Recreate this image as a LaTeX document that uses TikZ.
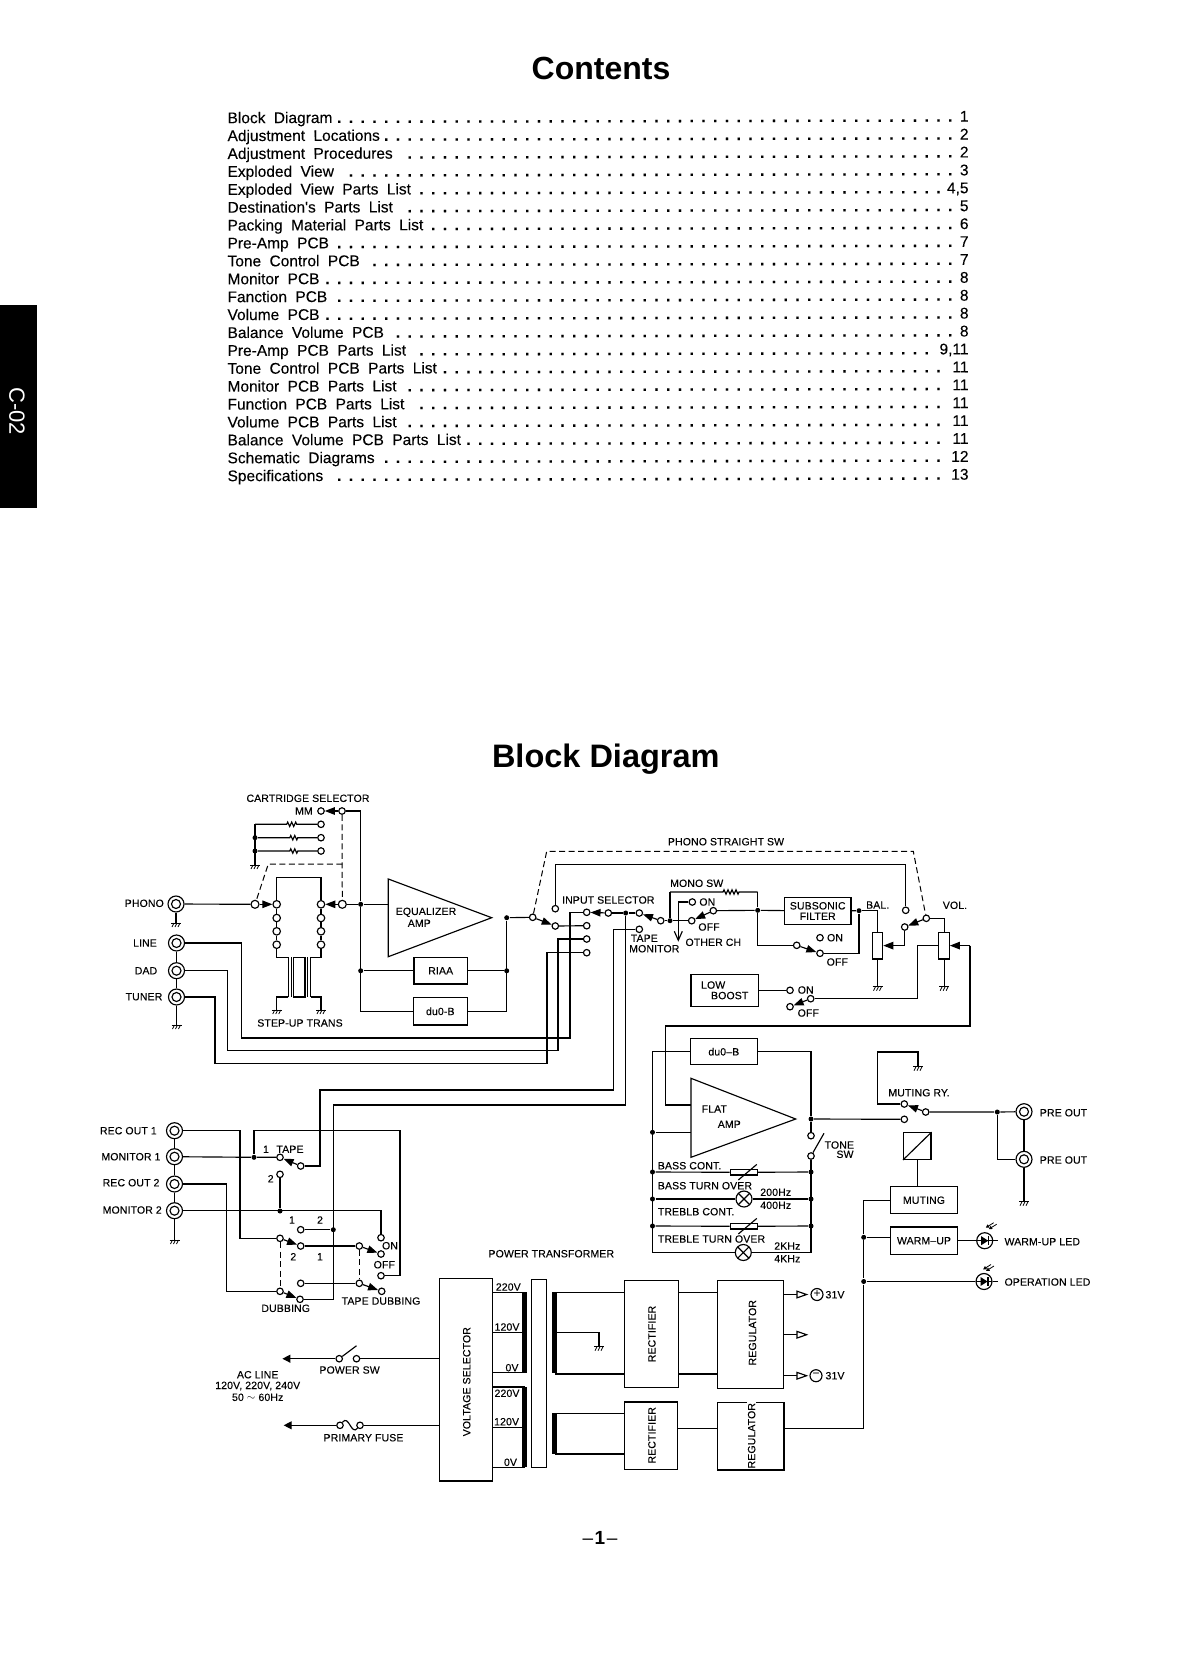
\documentclass[tikz,border=0pt]{standalone}
\usepackage{fontspec}
\setmainfont{Liberation Sans}
\newfontfamily\tocfont[WordSpace=1.95,FakeBold=0.12]{Liberation Sans}
\newfontfamily\lblfont[FakeBold=0.12,LetterSpace=1.2]{Liberation Sans}
\usetikzlibrary{arrows.meta,decorations.pathmorphing}
\tikzset{
  contact/.style={circle,draw,fill=white,inner sep=0pt,minimum size=6.5pt},
  dotn/.style={circle,fill=black,inner sep=0pt,minimum size=5pt},
  jack/.style={circle,draw,fill=white,inner sep=0pt,minimum size=16pt,
    path picture={\draw (path picture bounding box.center) circle (4.5pt);}},
  lamp/.style={circle,draw,fill=white,inner sep=0pt,minimum size=16pt,
    path picture={\draw (path picture bounding box.north west) -- (path picture bounding box.south east)
      (path picture bounding box.north east) -- (path picture bounding box.south west);}},
  ledn/.style={circle,draw,fill=white,inner sep=0pt,minimum size=16pt,
    path picture={\fill[black] ([shift={(-3.5pt,4.5pt)}]path picture bounding box.center) -- ([shift={(-3.5pt,-4.5pt)}]path picture bounding box.center)
      -- ([xshift=3.5pt]path picture bounding box.center) -- cycle;
      \draw ([shift={(4pt,4.5pt)}]path picture bounding box.center) -- ([shift={(4pt,-4.5pt)}]path picture bounding box.center);
      \draw ([xshift=-8pt]path picture bounding box.center) -- ([xshift=8pt]path picture bounding box.center);}},
  signn/.style={circle,draw,inner sep=0pt,minimum size=12pt,font=\fontsize{12}{12}\selectfont},
  lbl/.style={inner sep=0pt,font=\lblfont\fontsize{10.5}{11}\selectfont},
  box/.style 2 args={draw,fill=white,inner sep=0pt,minimum width=#1,minimum height=#2,align=center,
    font=\lblfont\fontsize{10.5}{10.5}\selectfont},
  swarm/.style={-{Triangle[length=10pt,width=7.5pt]}},
  outarm/.style={-{Triangle[open,fill=white,length=12pt,width=8pt]}},
  acarm/.style={-{Triangle[length=8pt,width=8pt]}},
  ganged/.style={line width=1pt,dash pattern=on 6pt off 3.5pt},
  zig/.style 2 args={decorate,decoration={zigzag,amplitude=2.2pt,segment length=4pt,pre length=#1,post length=#2}},
  gnd/.pic={
    \draw[line width=0.9pt] (-5,0) -- (5,0);
    \foreach \s in {-3,0,3} \draw[line width=0.8pt] ({\s+1},0) -- ({\s-1},4);
  },
}
\newcommand{\tocdots}{\leaders\hbox to 11.75pt{\hss\bfseries.\hss}\hfill}
\begin{document}
\begin{tikzpicture}[x=1pt,y=-1pt,line width=1.15pt,>=stealth]
  \useasboundingbox (0,0) rectangle (1179,1672);

  % Page furniture
  \fill (0,305) rectangle (37,508);
  \node[white,rotate=-90,inner sep=0pt,font=\fontsize{22}{22}\selectfont] (tab) at (17,411) {C-02};
  \node[anchor=base,inner sep=0pt,font=\fontsize{32}{32}\selectfont\bfseries] (contents) at (601,80) {Contents};
  \node[anchor=base,inner sep=0pt,font=\fontsize{32.5}{33}\selectfont\bfseries] (blockdiag) at (605.8,767) {Block Diagram};
  \node[inner sep=0pt,font=\fontsize{19}{19}\selectfont] (pageno) at (600,1538) {–\kern1.5pt\textbf{1}\kern1.5pt–};

  % Contents list
  \foreach \lname/\lpage [count=\i from 0] in {Block Diagram/1,Adjustment Locations/2,Adjustment Procedures/2,
      Exploded View/3,Exploded View Parts List/{4,5},Destination's Parts List/5,Packing Material Parts List/6,
      Pre-Amp PCB/7,Tone Control PCB/7,Monitor PCB/8,Fanction PCB/8,Volume PCB/8,Balance Volume PCB/8,
      Pre-Amp PCB Parts List/{9,11},Tone Control PCB Parts List/11,Monitor PCB Parts List/11,
      Function PCB Parts List/11,Volume PCB Parts List/11,Balance Volume PCB Parts List/11,
      Schematic Diagrams/12,Specifications/13}
    \node[anchor=base west,rotate=0.12,inner sep=0pt,font=\tocfont\fontsize{15.5}{16}\selectfont] (toc\i) at (227,{123.2+17.9*\i})
      {\hbox to 741pt{\lname\tocdots\lpage}};

  % Phono jacks and inputs
  \foreach \jn/\jx/\jy in {jph/176/904,jlin/176.5/943,jdad/176.5/970.7,jtun/176.5/997,
      jra/174.5/1130.7,jma/174.5/1156.7,jrb/174.5/1184,jmb/174.5/1210.7,jpa/1024/1111.7,jpb/1024/1159.3}
    \node[jack] (\jn) at (\jx,\jy) {};
  \coordinate (gph) at (176,923);
  \coordinate (gtu) at (176.5,1025);
  \draw (jph) -- (gph);
  \draw (jlin) -- (jdad) -- (jtun) -- (gtu);
  \pic at (gph) {gnd};
  \pic at (gtu) {gnd};
  \node[lbl] (lph) at (144.3,903.3) {PHONO};
  \node[lbl] (llin) at (145,943) {LINE};
  \node[lbl] (ldad) at (146,970.7) {DAD};
  \node[lbl] (ltun) at (144,996.7) {TUNER};

  % Cartridge selector
  \node[lbl] (lcart) at (308,798.3) {CARTRIDGE SELECTOR};
  \node[lbl,anchor=east] (lmm) at (313.3,811) {MM};
  \node[contact] (cmm) at (321,811) {};
  \node[contact] (ccom) at (342,811) {};
  \draw[swarm] (ccom) -- (cmm);
  \coordinate (rtop) at (255,824.3);
  \node[dotn] (rdb) at (255,837.7) {};
  \node[dotn] (rdc) at (255,851) {};
  \coordinate (gca) at (255,865);
  \node[contact] (cra) at (321,824.3) {};
  \node[contact] (crb) at (321,837.7) {};
  \node[contact] (crc) at (321,851) {};
  \draw (rtop) -- (gca);
  \pic at (gca) {gnd};
  \foreach \rs/\re in {rtop/cra,rdb/crb,rdc/crc}
    \draw[zig={31.7pt}{19.3pt}] (\rs) -- (\re);

  % Step-up transformer
  \foreach \cy [count=\i] in {904.3,918,931.3,944.7} {
    \node[contact,minimum size=7.5pt] (cl\i) at (276.7,\cy) {};
    \node[contact,minimum size=7.5pt] (cr\i) at (321,\cy) {};
  }
  \draw (cl1) -- (cl2) -- (cl3) -- (cl4);
  \draw (cr1) -- (cr2) -- (cr3) -- (cr4);
  \draw (cl1) -- ++(0,-26.6) -| (cr1);
  \coordinate (tla) at (288.3,957.3);
  \coordinate (tra) at (310.5,957.3);
  \coordinate (tlb) at (288.3,997);
  \coordinate (trb) at (310.5,997);
  \coordinate (gsl) at (276.7,1010);
  \coordinate (gsr) at (321,1010);
  \draw (cl4) |- (tla);
  \draw (cr4) |- (tra);
  \draw (tlb) -| (gsl);
  \draw (trb) -| (gsr);
  \foreach \xx in {288.3,291.3,307.5,310.5}
    \draw (\xx,957.3) -- (\xx,997);
  \draw (293.5,957.3) rectangle (305,997);
  \pic at (gsl) {gnd};
  \pic at (gsr) {gnd};
  \node[lbl] (lstep) at (300,1023) {STEP-UP TRANS};
  \node[contact,minimum size=8pt] (cpl) at (255,904.3) {};
  \node[contact,minimum size=8pt] (cpr) at (342.3,904.3) {};
  \draw (jph) -- (cpl);
  \draw[swarm] (cpl) -- (cl1);
  \draw[swarm] (cpr) -- (cr1);
  \coordinate (gsa) at (342.3,864);
  \coordinate (gsb) at (268.3,864);
  \draw[ganged] (ccom) -- (cpr);
  \draw[ganged] (gsa) -- (gsb) -- (cpl);

  % Equalizer amp
  \coordinate (eqa) at (388.3,879);
  \coordinate (eqb) at (388.3,956.7);
  \coordinate (eqout) at (491.7,917.7);
  \coordinate (eqin) at (388.3,904.3);
  \draw (eqa) -- (eqout) -- (eqb) -- cycle;
  \node[lbl] (leqa) at (426,912.3) {EQUALIZER};
  \node[lbl] (leqb) at (419.3,923.3) {AMP};
  \node[box={53.3pt}{26.3pt}] (riaa) at (440.7,970.8) {RIAA};
  \node[box={54pt}{27.3pt}] (duq) at (440.3,1011.3) {du0-B};
  \node[dotn] (dea) at (360.7,904.3) {};
  \node[dotn] (deb) at (360.7,970.8) {};
  \node[dotn] (dec) at (506.7,917.7) {};
  \node[dotn] (ded) at (506.7,970.8) {};
  \draw (ccom) -| (dea);
  \draw (cpr) -- (dea) -- (eqin);
  \draw (dea) |- (duq);
  \draw (deb) -- (riaa) -- (ded);
  \draw (dec) |- (duq);

  % Input selector
  \node[contact] (spa) at (532.7,917.3) {};
  \node[contact] (spb) at (555.3,926) {};
  \node[contact] (spc) at (555.3,908.7) {};
  \foreach \sn/\sy in {sa/912.3,sb/925.7,sc/939,sd/952.7}
    \node[contact] (\sn) at (586.7,\sy) {};
  \node[contact] (swa) at (608.3,913) {};
  \node[dotn] (dts) at (625.7,913) {};
  \node[contact] (swb) at (639.3,913) {};
  \node[contact] (swc) at (660.7,920.7) {};
  \node[contact] (tmn) at (639.3,929.3) {};
  \node[dotn] (dmo) at (670,920.7) {};
  \node[lbl] (linp) at (608.3,900) {INPUT SELECTOR};
  \node[lbl] (ltap) at (644.3,938.3) {TAPE};
  \node[lbl] (lmon) at (654.3,948.7) {MONITOR};
  \draw (dec) -- (spa);
  \draw[swarm] (spa) -- (spb);
  \draw (spb) -- (sb);
  \draw[swarm] (swa) -- (sa);
  \draw (swa) -- (dts) -- (swb);
  \draw[swarm] (swc) -- (swb);
  \draw (jlin) -| (241.7,1038) -| (570,912.3) -- (sa);
  \draw (jdad) -| (227.7,1050.3) -| (558,939) -- (sc);
  \draw (jtun) -| (215,1063.7) -| (547,952.7) -- (sd);

  % Mono switch and subsonic filter
  \node[contact] (mnc) at (691.7,920.7) {};
  \node[contact] (mnt) at (713.3,910.7) {};
  \node[contact] (mnon) at (692.3,902) {};
  \node[dotn] (dsu) at (757.7,910.3) {};
  \node[box={66.7pt}{26.6pt}] (subf) at (817.7,911) {SUBSONIC\\FILTER};
  \node[dotn] (dba) at (859,910.7) {};
  \coordinate (mtl) at (670,892);
  \coordinate (mtr) at (757.7,892);
  \coordinate (ocha) at (678.3,941.7);
  \draw (swc) -- (dmo) -- (mnc);
  \draw (dmo) -- (mtl);
  \draw[zig={53pt}{17.7pt}] (mtl) -- (mtr);
  \draw (mtr) -- (dsu);
  \draw[swarm] (mnt) -- (mnc);
  \draw (mnt) -- (dsu) -- (subf) -- (dba);
  \draw[-{Straight Barb[length=9pt,width=8pt]}] (mnon) -| (ocha);
  \node[lbl] (lmos) at (696.7,883.3) {MONO SW};
  \node[lbl] (lmoa) at (707.3,902) {ON};
  \node[lbl] (lmob) at (709,927) {OFF};
  \node[lbl] (loth) at (713.3,942.3) {OTHER CH};
  \node[contact] (ffa) at (796.7,945.3) {};
  \node[contact] (ffb) at (820,953.3) {};
  \node[contact] (ffon) at (820,937.7) {};
  \draw (dsu) |- (ffa);
  \draw[swarm] (ffa) -- (ffb);
  \draw (ffb) -| (dba);
  \node[lbl] (lffa) at (835,937.7) {ON};
  \node[lbl] (lffb) at (837.3,962) {OFF};

  % Balance and volume
  \node[box={10.4pt}{26.7pt}] (pota) at (877.5,945.6) {};
  \node[box={10.4pt}{26.7pt}] (potb) at (944.1,945.6) {};
  \coordinate (gpa) at (877.5,986.7);
  \coordinate (gpb) at (944.1,986.7);
  \coordinate (wpa) at (904.7,945.6);
  \coordinate (wpb) at (970,945.6);
  \node[contact] (vsa) at (926.3,918.3) {};
  \node[contact] (vsb) at (904.7,927) {};
  \node[contact] (vsc) at (905.7,910.3) {};
  \draw (dba) -| (pota);
  \draw (pota) -- (gpa);
  \draw (potb) -- (gpb);
  \pic at (gpa) {gnd};
  \pic at (gpb) {gnd};
  \draw[swarm] (vsa) -- (vsb);
  \draw (vsb) -- (wpa);
  \draw[swarm] (wpa) -- (pota.east);
  \draw (vsa) -| (potb);
  \draw[swarm] (wpb) -- (potb.east);
  \draw (spc) -- ++(0,-44.4) -| (vsc);
  \coordinate (psa) at (546.7,851.3);
  \coordinate (psb) at (913.3,851.3);
  \draw[ganged] (spa) -- (psa) -- (psb) -- (vsa);
  \node[lbl] (lpsw) at (726,841.7) {PHONO STRAIGHT SW};
  \node[lbl] (lbal) at (877.7,905) {BAL.};
  \node[lbl] (lvol) at (955,905.3) {VOL.};

  % Low boost
  \node[box={67.3pt}{32pt},align=left] (lowb) at (724.7,990.3) {LOW\\\hspace*{10pt}BOOST};
  \node[contact] (lba) at (790,990.3) {};
  \node[contact] (lbb) at (790,1006.7) {};
  \node[contact] (lbc) at (810.7,998.7) {};
  \draw (lowb) -- (lba);
  \draw[swarm] (lbc) -- (lbb);
  \draw (potb) -| (917.3,998.7) -- (lbc);
  \node[lbl] (llba) at (805.7,990) {ON};
  \node[lbl] (llbb) at (808.3,1013) {OFF};

  % Flat amp and tone
  \coordinate (faa) at (691,1078.3);
  \coordinate (fab) at (691,1157.3);
  \coordinate (faout) at (795.7,1119);
  \coordinate (fain) at (691,1105);
  \coordinate (fafb) at (691,1132.3);
  \draw (faa) -- (faout) -- (fab) -- cycle;
  \draw (wpb) |- (665.3,1026) |- (fain);
  \node[lbl] (lfaa) at (714.3,1109) {FLAT};
  \node[lbl] (lfab) at (729.3,1124.3) {AMP};
  \node[box={67pt}{26pt}] (dufb) at (723.8,1051.7) {du0–B};
  \node[dotn] (dtp) at (811,1119) {};
  \node[contact] (tsa) at (811,1135.7) {};
  \node[contact] (tsb) at (811,1156) {};
  \coordinate (tsarm) at (824,1133.3);
  \node[dotn] (dla) at (652.5,1132.3) {};
  \coordinate (bla) at (652.5,1252.5);
  \coordinate (bra) at (811,1252.5);
  \node[box={27pt}{5.3pt}] (rbs) at (743.8,1172.3) {};
  \node[box={27pt}{5.3pt}] (rtr) at (743.8,1226.3) {};
  \node[lamp] (lpa) at (744,1199) {};
  \node[lamp] (lpb) at (743.3,1252.5) {};
  \foreach \rn/\ry [count=\i] in {rbs/1172,lpa/1199,rtr/1226} {
    \node[dotn] (dl\i) at (652.5,\ry) {};
    \node[dotn] (dr\i) at (811,\ry) {};
    \draw (dl\i) -- (\rn) -- (dr\i);
  }
  \foreach \rr in {rbs,rtr}
    \draw ([shift={(-5.5,7.7)}]\rr.center) -- ([shift={(13,-7.9)}]\rr.center);
  \draw (dufb) -| (bla) -- (lpb) -- (bra) -- (tsb);
  \draw (dla) -- (fafb);
  \draw (dufb) -| (dtp);
  \draw (tsa) -- (dtp);
  \draw (tsb) -- (tsarm);
  \node[lbl,anchor=west] (lbsc) at (657.3,1165.7) {BASS CONT.};
  \node[lbl,anchor=west] (lbt) at (657.3,1185.7) {BASS TURN OVER};
  \node[lbl,anchor=west] (ltc) at (657.3,1211.7) {TREBLB CONT.};
  \node[lbl,anchor=west] (ltt) at (657.3,1239) {TREBLE TURN OVER};
  \node[lbl] (lha) at (775.7,1192.3) {200Hz};
  \node[lbl] (lhb) at (775.7,1205.3) {400Hz};
  \node[lbl] (lhc) at (787.3,1246) {2KHz};
  \node[lbl] (lhd) at (787.3,1258.7) {4KHz};
  \node[lbl] (ltsa) at (839.3,1145) {TONE};
  \node[lbl] (ltsb) at (845,1154.3) {SW};

  % Muting relay and outputs
  \node[contact] (mra) at (904.3,1104) {};
  \node[contact] (mrb) at (904.3,1119.3) {};
  \node[contact] (mrc) at (925.7,1112) {};
  \node[dotn] (dpr) at (997.3,1112) {};
  \coordinate (gmr) at (918,1066.7);
  \coordinate (gpo) at (1024,1201.7);
  \draw (dtp) -- (mrb);
  \draw[swarm] (mrc) -- (mra);
  \draw (mra) -| (877.7,1052) -| (gmr);
  \pic at (gmr) {gnd};
  \draw (mrc) -- (dpr) -- (jpa);
  \draw (dpr) |- (jpb);
  \draw (jpa) -- (jpb) -- (gpo);
  \pic at (gpo) {gnd};
  \node[lbl] (lmry) at (919,1092.7) {MUTING RY.};
  \node[lbl,anchor=west] (lpoa) at (1039.3,1112.7) {PRE OUT};
  \node[lbl,anchor=west] (lpob) at (1039.3,1160) {PRE OUT};
  \node[box={27.3pt}{26.6pt}] (relay) at (917.3,1146) {};
  \draw (relay.south west) -- (relay.north east);
  \node[box={67.4pt}{27pt}] (mute) at (924,1200.2) {MUTING};
  \node[box={67.4pt}{27.3pt}] (wup) at (924,1240.7) {WARM–UP};
  \draw (relay) -- (relay |- mute.north);
  \node[dotn] (dwu) at (863.7,1237.3) {};
  \node[dotn] (dop) at (863.7,1281.5) {};
  \node[ledn] (leda) at (984.7,1240.7) {};
  \node[ledn] (ledb) at (984,1281.5) {};
  \coordinate (lea) at (998.3,1240.7);
  \coordinate (leb) at (998.3,1281.5);
  \draw (mute) -| (dwu);
  \draw (dwu) -- (dop);
  \draw (dwu) -- (dwu -| wup.west);
  \draw (wup) -- (leda) -- (lea);
  \draw (dop) -- (ledb) -- (leb);
  \foreach \ln/\sx/\sy in {leda/5/-13,ledb/3/-12} {
    \draw[-{Triangle[length=3.5pt,width=3.5pt]},line width=0.8pt] ([shift={(\sx+4,\sy-5)}]\ln.center) -- ([shift={(\sx-4,\sy)}]\ln.center);
    \draw[-{Triangle[length=3.5pt,width=3.5pt]},line width=0.8pt] ([shift={(\sx+7,\sy-3.5)}]\ln.center) -- ([shift={(\sx-1,\sy+1.5)}]\ln.center);
  }
  \node[lbl,anchor=west] (lwu) at (1004,1241.7) {WARM-UP LED};
  \node[lbl,anchor=west] (lop) at (1004,1282) {OPERATION LED};

  % Rec out, monitor, dubbing
  \draw (jra) -- (jma) -- (jrb) -- (jmb);
  \coordinate (gmb) at (174.5,1240);
  \draw (jmb) -- (gmb);
  \pic at (gmb) {gnd};
  \node[lbl,anchor=east] (lra) at (157.3,1130.7) {REC OUT 1};
  \node[lbl,anchor=east] (lma) at (161,1156.7) {MONITOR 1};
  \node[lbl,anchor=east] (lrb) at (160,1182.7) {REC OUT 2};
  \node[lbl,anchor=east] (lmb) at (162.3,1210) {MONITOR 2};
  \node[contact] (tpa) at (280,1157.3) {};
  \node[contact] (tpb) at (300.7,1166) {};
  \node[contact] (tpc) at (280,1174.3) {};
  \node[dotn] (dma) at (254,1157.3) {};
  \node[dotn] (dmb) at (280,1211) {};
  \node[contact] (dua) at (280,1238.3) {};
  \node[contact] (dub) at (300.7,1246) {};
  \node[contact] (duc) at (300.7,1229.7) {};
  \node[contact] (dud) at (280,1291.3) {};
  \node[contact] (due) at (300,1299.3) {};
  \node[contact] (duf) at (300.7,1283.3) {};
  \node[dotn] (ddu) at (333.3,1229.7) {};
  \node[contact] (tda) at (359.3,1246) {};
  \node[contact] (tdb) at (381,1254) {};
  \node[contact] (tdc) at (359.3,1283.3) {};
  \node[contact] (tdd) at (381.7,1291.3) {};
  \node[contact] (tdon) at (381,1237.7) {};
  \node[contact] (tdof) at (381,1275.7) {};
  \draw (jma) -- (dma) -- (tpa);
  \draw[swarm] (tpb) -- (tpa);
  \draw (tpc) -- (dmb);
  \draw (jmb) -| (tdon);
  \draw (jra) -| (240,1238.3) -- (dua);
  \draw (jrb) -| (226.7,1291.3) -- (dud);
  \draw (dma) |- (400,1130.7) |- (tdof);
  \draw[swarm] (dua) -- (dub);
  \draw[swarm] (dud) -- (due);
  \draw (dub) -- (tda);
  \draw[swarm] (tda) -- (tdb);
  \draw[swarm] (tdc) -- (tdd);
  \draw (duc) -- (ddu);
  \draw (duf) -- (tdc);
  \draw[ganged] (dua) -- (dud);
  \draw[ganged] (tda) -- (tdc);
  \draw (tmn) -| (613.3,1090) -| (320,1166) -- (tpb);
  \draw (dts) |- (333.3,1105) |- (due);
  \node[lbl] (ltpa) at (266,1149.3) {1};
  \node[lbl] (ltpb) at (290,1149.3) {TAPE};
  \node[lbl] (ltpc) at (270.7,1178.7) {2};
  \node[lbl] (ldua) at (292,1220) {1};
  \node[lbl] (ldub) at (320,1220) {2};
  \node[lbl] (lduc) at (293.3,1256.7) {2};
  \node[lbl] (ldud) at (320,1256.7) {1};
  \node[lbl] (ltda) at (390,1245.7) {ON};
  \node[lbl] (ltdb) at (384.3,1264.7) {OFF};
  \node[lbl] (ldue) at (285.7,1308.3) {DUBBING};
  \node[lbl] (ltdc) at (381,1301) {TAPE DUBBING};

  % Power supply
  \node[box={53.3pt}{202.7pt}] (volt) at (466,1379.7) {};
  \node[lbl,rotate=90] (lvolt) at (466.7,1381.7) {VOLTAGE SELECTOR};
  \node[lbl] (lpt) at (551.3,1253.7) {POWER TRANSFORMER};
  \node[box={14.8pt}{188pt}] (core) at (539.1,1373.3) {};
  \node[box={53.8pt}{107pt}] (rcta) at (651.4,1334.2) {};
  \node[box={66.4pt}{107.6pt}] (rgla) at (750.5,1334.5) {};
  \node[box={53.4pt}{67.3pt}] (rctb) at (651.2,1435.6) {};
  \node[box={66.7pt}{67.7pt}] (rglb) at (750.6,1436.1) {};
  \node[lbl,rotate=90] (lrca) at (651.9,1334) {RECTIFIER};
  \node[lbl,rotate=90] (lrga) at (752.5,1332.7) {REGULATOR};
  \node[lbl,rotate=90] (lrcb) at (651.9,1435.3) {RECTIFIER};
  \node[lbl,rotate=90,fill=white,inner sep=1pt] (lrgb) at (751.6,1435.7) {REGULATOR};

  % Transformer windings
  \fill (521.8,1292.3) rectangle (527,1373);
  \fill (521.8,1387) rectangle (527,1467.3);
  \fill (551.7,1292.3) rectangle (557,1373.3);
  \fill (551.7,1413.3) rectangle (557,1454);
  \foreach \ty [count=\i] in {1292.3,1332.7,1372.7,1387,1427.3,1467.3} {
    \coordinate (tap\i) at (525,\ty);
    \draw (tap\i -| volt.east) -- (tap\i);
  }
  \foreach \vy/\vx/\vt [count=\i] in {1287/508.3/220V,1327/507/120V,1367.7/512/0V,1393.3/507/220V,1421.7/506.6/120V,1462.3/510.5/0V}
    \node[lbl] (ltap\i) at (\vx,\vy) {\vt};
  \coordinate (sca) at (555,1292.7);
  \coordinate (scb) at (555,1374);
  \coordinate (scc) at (555,1332.7);
  \coordinate (gsc) at (599,1346.7);
  \coordinate (scd) at (555,1413.3);
  \coordinate (sce) at (555,1454);
  \coordinate (scf) at (700,1428.7);
  \draw (sca) -- (sca -| rcta.west);
  \draw (scb) -- (scb -| rcta.west);
  \draw (scc) -| (gsc);
  \pic at (gsc) {gnd};
  \draw (scd) -- (scd -| rctb.west);
  \draw (sce) -- (sce -| rctb.west);
  \draw (sca -| rcta.east) -- (sca -| rgla.west);
  \draw (scb -| rcta.east) -- (scb -| rgla.west);
  \draw (scf -| rctb.east) -- (scf -| rglb.west);
  \draw (dop) |- (scf -| rglb.east);

  % Regulated outputs
  \foreach \oy [count=\i] in {1294.5,1334.7,1375.7} {
    \coordinate (oa\i) at (783.7,\oy);
    \coordinate (ob\i) at (808.4,\oy);
    \draw[outarm] (oa\i) -- (ob\i);
  }
  \node[signn] (splus) at (817,1294.5) {+};
  \node[signn] (sminus) at (816,1375.7) {−};
  \node[lbl] (lpl) at (835,1294.7) {31V};
  \node[lbl] (lmi) at (835,1375.7) {31V};

  % AC line
  \coordinate (aca) at (282.4,1358.7);
  \coordinate (acb) at (283.7,1425.3);
  \coordinate (psarm) at (356.5,1345.7);
  \node[contact] (pwa) at (339.2,1358.7) {};
  \node[contact] (pwb) at (356.5,1358.7) {};
  \node[contact] (fua) at (340,1425.3) {};
  \node[contact] (fub) at (360,1425.3) {};
  \draw (pwb) -- (pwb -| volt.west);
  \draw[acarm] (pwa) -- (aca);
  \draw (pwa) -- (psarm);
  \draw (fub) -- (fub -| volt.west);
  \draw[acarm] (fua) -- (acb);
  \draw (fua) .. controls (349,1414) and (351,1436) .. (fub);
  \node[lbl] (lpws) at (349.6,1370) {POWER SW};
  \node[lbl] (lfus) at (363.5,1437.7) {PRIMARY FUSE};
  \node[lbl] (laca) at (257.7,1374.7) {AC LINE};
  \node[lbl] (lacb) at (257.7,1386) {120V, 220V, 240V};
  \node[lbl] (lacc) at (257.7,1397.3) {50 $\sim$ 60Hz};
\end{tikzpicture}
\end{document}
